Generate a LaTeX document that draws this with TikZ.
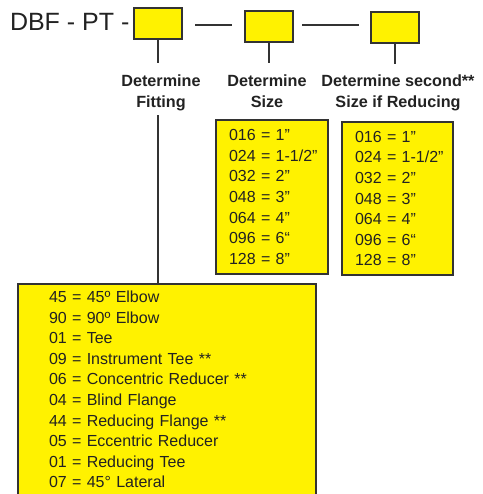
\documentclass[tikz,border=0pt]{standalone}
\usepackage{fontspec}
\setmainfont{Liberation Sans}
\usetikzlibrary{positioning, calc}
\definecolor{cyellow}{HTML}{FFF200}
\definecolor{cline}{HTML}{333333}
\definecolor{ctext}{HTML}{222222}
\hfuzz=20pt
\tikzset{
  every picture/.style={line width=2pt},
  codebox/.style={draw=cline, fill=cyellow, minimum width=48pt, minimum height=31pt, inner sep=0pt},
  listbox/.style={draw=cline, fill=cyellow, align=left, text=ctext, font=\fontsize{16}{20.6}\selectfont},
  head/.style={font=\bfseries\fontsize{16.2}{21}\selectfont, align=center, text=ctext},
  link/.style={draw=cline, line width=2pt},
}

\begin{document}
\begin{tikzpicture}[x=1pt, y=-1pt]
  \useasboundingbox (0,0) rectangle (482,494);
  \clip (0,0) rectangle (482,494);
  \node[font=\fontsize{25}{30}\selectfont, text=ctext, anchor=base west, inner sep=0pt] (prefix) at (9,30.5) {DBF - PT -};
  \node[codebox] (fit) at (158,23.5) {};
  \node[codebox] (size) at (269,26.5) {};
  \node[codebox] (second) at (395,27.5) {};
  \draw[link] ($(fit.east)+(12,1.5)$) -- ($(size.west)+(-12,-1.5)$);
  \draw[link] ($(size.west)+(58,-1.5)$) -- ($(second.west)+(-11,-2.5)$);
  % what each box stands for
  \node[head, anchor=north] (fitlabel) at (161,70.5) {Determine\\Fitting};
  \node[head, anchor=north] (sizelabel) at (267,70.5) {Determine\\Size};
  \node[head, anchor=north] (secondlabel) at (398,70.5) {Determine second**\\Size if Reducing};
  \draw[link, shorten >=7pt] (fit.south) -- (fit.south |- fitlabel.north);
  \draw[link, shorten >=7pt] (size.south) -- (size.south |- sizelabel.north);
  \draw[link, shorten >=6pt] (second.south) -- (second.south |- secondlabel.north);
  % size codes
  \node[listbox, anchor=north west, minimum width=112pt, minimum height=154pt, text width=86pt, inner xsep=13pt] (sizelist) at (215,119)
    {016 = 1”\\\mbox{024 = 1-1/2”}\\032 = 2”\\048 = 3”\\064 = 4”\\096 = 6“\\128 = 8”};
  \node[listbox, anchor=north west, minimum width=111pt, minimum height=153pt, text width=85pt, inner xsep=13pt] (secondlist) at (341,121)
    {016 = 1”\\\mbox{024 = 1-1/2”}\\032 = 2”\\048 = 3”\\064 = 4”\\096 = 6“\\128 = 8”};
  % fitting codes
  \node[listbox, anchor=north west, text width=236pt, inner xsep=31pt, inner ysep=7pt] (fitlist) at (17,283)
    {45 = 45º Elbow\\90 = 90º Elbow\\01 = Tee\\09 = Instrument Tee **\\06 = Concentric Reducer **\\04 = Blind Flange\\44 = Reducing Flange **\\05 = Eccentric Reducer\\01 = Reducing Tee\\07 = 45° Lateral};
  \draw[link] (fitlabel.south -| fit.south) -- (fit.south |- fitlist.north);
\end{tikzpicture}
\end{document}
